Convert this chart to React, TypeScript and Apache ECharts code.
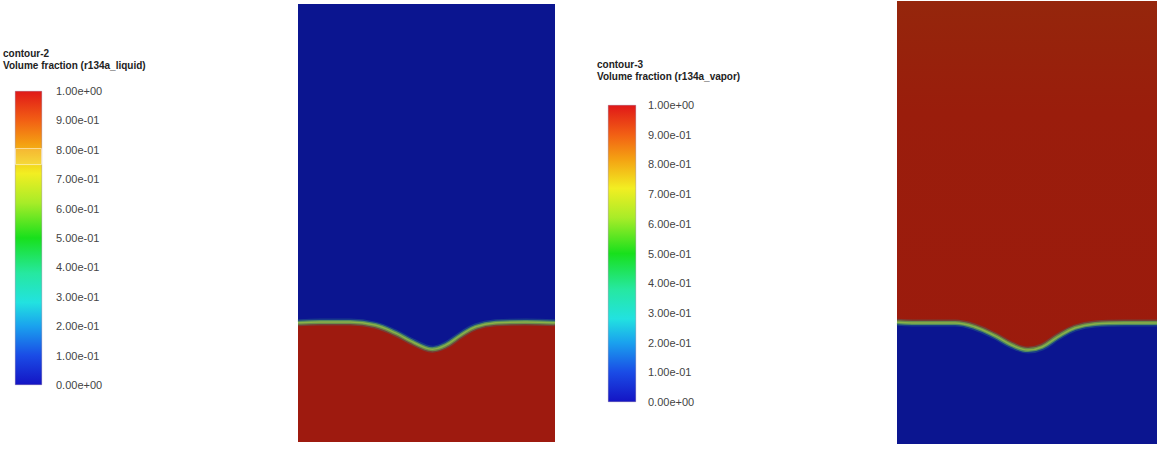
import React, { useEffect, useRef } from "react";
import * as echarts from "echarts";

// colour-bar tick labels (value 0 .. 1, step 0.1)
const tickLabels = [
  "0.00e+00", "1.00e-01", "2.00e-01", "3.00e-01", "4.00e-01", "5.00e-01",
  "6.00e-01", "7.00e-01", "8.00e-01", "9.00e-01", "1.00e+00",
];

// left contour (liquid): interface height (fraction of domain height) vs x (fraction of width)
const liquidX = [0, 0.086, 0.203, 0.3, 0.379, 0.4375, 0.496, 0.523, 0.574, 0.633, 0.691, 0.77, 0.887, 1];
const liquidH = [0.272, 0.274, 0.274, 0.267, 0.249, 0.231, 0.215, 0.212, 0.221, 0.244, 0.263, 0.272, 0.274, 0.272];

// right contour (vapor)
const vaporX = [0, 0.108, 0.223, 0.3, 0.377, 0.442, 0.504, 0.558, 0.619, 0.685, 0.762, 0.877, 1];
const vaporH = [0.275, 0.273, 0.273, 0.264, 0.244, 0.223, 0.212, 0.219, 0.242, 0.262, 0.271, 0.273, 0.273];

// faded band on the left colour bar (value range)
const bandRange = [0.748, 0.806];

const titles = [
  { name: "contour-2", sub: "Volume fraction (r134a_liquid)" },
  { name: "contour-3", sub: "Volume fraction (r134a_vapor)" },
];

const BLUE = "#0b1590";
const RED = "#9e1a0f";
const FONT = "Liberation Sans, Arial, sans-serif";

const barGradient = () =>
  new echarts.graphic.LinearGradient(0, 1, 0, 0, [
    { offset: 0, color: "#1414c4" },
    { offset: 0.1, color: "#1a4ce6" },
    { offset: 0.2, color: "#1aa2ee" },
    { offset: 0.28, color: "#22e2e0" },
    { offset: 0.38, color: "#26e8a0" },
    { offset: 0.5, color: "#18e01c" },
    { offset: 0.62, color: "#a8ec28" },
    { offset: 0.72, color: "#f2ee22" },
    { offset: 0.82, color: "#f4a012" },
    { offset: 0.9, color: "#f26014" },
    { offset: 1, color: "#e01818" },
  ]);

export default function App() {
  const ref = useRef<HTMLDivElement>(null);

  useEffect(() => {
    document.body.style.margin = "0";
    const chart = echarts.init(ref.current!, null, { renderer: "svg" });

    const labelAxis = (gridIndex: number, margin: number) => ({
      type: "value",
      gridIndex,
      min: 0,
      max: 1,
      interval: 0.1,
      position: "right",
      axisLine: { show: false },
      axisTick: { show: false },
      splitLine: { show: false },
      axisLabel: {
        margin,
        fontSize: 11,
        color: "#444",
        fontFamily: FONT,
        formatter: (v: number) => tickLabels[Math.round(v * 10)],
      },
    });
    const hiddenVal = (gridIndex: number) => ({
      type: "value", gridIndex, min: 0, max: 1, show: false,
    });

    const interfaceSeries = (idx: number, xs: number[], hs: number[], fill: string) => {
      const data = xs.map((x, i) => [x, hs[i]]);
      const base = { type: "line", xAxisIndex: idx, yAxisIndex: idx, data, smooth: 0.4, symbol: "none" };
      return [
        { ...base, lineStyle: { width: 0 }, areaStyle: { color: fill, opacity: 1, origin: "start" }, z: 2 },
        { ...base, lineStyle: { width: 7, color: "rgba(50,130,130,0.35)" }, z: 3 },
        { ...base, lineStyle: { width: 4, color: "rgba(100,165,80,0.75)" }, z: 4 },
        { ...base, lineStyle: { width: 1.5, color: "rgba(150,185,70,0.8)" }, z: 5 },
      ];
    };

    const titleStyle = { fontSize: 10, fontWeight: "bold", color: "#222", fontFamily: FONT };

    const option = {
      animation: false,
      backgroundColor: "#fff",
      title: [
        { text: titles[0].name, subtext: titles[0].sub, left: 3, top: 48, itemGap: 2, padding: 0, textStyle: titleStyle, subtextStyle: titleStyle },
        { text: titles[1].name, subtext: titles[1].sub, left: 597, top: 59, itemGap: 2, padding: 0, textStyle: titleStyle, subtextStyle: titleStyle },
      ],
      grid: [
        { left: 15, top: 91, width: 27, height: 294 },
        { left: 298, top: 4, width: 257, height: 438, show: true, backgroundColor: BLUE, borderWidth: 0 },
        { left: 608, top: 105, width: 28, height: 297 },
        {
          left: 897, top: 1, width: 260, height: 443, show: true, borderWidth: 0,
          backgroundColor: new echarts.graphic.LinearGradient(0, 0, 0, 1, [
            { offset: 0, color: "#95260c" },
            { offset: 0.25, color: "#9a1d0c" },
            { offset: 1, color: "#9c1a0d" },
          ]),
        },
      ],
      xAxis: [
        { type: "category", gridIndex: 0, data: ["bar"], show: false },
        hiddenVal(1),
        { type: "category", gridIndex: 2, data: ["bar"], show: false },
        hiddenVal(3),
      ],
      yAxis: [labelAxis(0, 14), hiddenVal(1), labelAxis(2, 12), hiddenVal(3)],
      series: [
        {
          type: "bar",
          xAxisIndex: 0,
          yAxisIndex: 0,
          data: [1],
          barWidth: 27,
          barGap: "-100%",
          itemStyle: { color: barGradient(), borderColor: "rgba(90,60,110,0.5)", borderWidth: 0.5 },
          z: 2,
        },
        {
          type: "bar",
          xAxisIndex: 0,
          yAxisIndex: 0,
          stack: "band",
          data: [bandRange[0]],
          barWidth: 27,
          barGap: "-100%",
          itemStyle: { color: "rgba(0,0,0,0)" },
          z: 3,
        },
        {
          type: "bar",
          xAxisIndex: 0,
          yAxisIndex: 0,
          stack: "band",
          data: [bandRange[1] - bandRange[0]],
          barWidth: 27,
          barGap: "-100%",
          itemStyle: { color: "rgba(255,235,190,0.18)", borderColor: "rgba(255,250,235,0.6)", borderWidth: 1 },
          z: 3,
        },
        {
          type: "bar",
          xAxisIndex: 2,
          yAxisIndex: 2,
          data: [1],
          barWidth: 28,
          itemStyle: { color: barGradient(), borderColor: "rgba(90,60,110,0.5)", borderWidth: 0.5 },
        },
        ...interfaceSeries(1, liquidX, liquidH, RED),
        ...interfaceSeries(3, vaporX, vaporH, BLUE),
      ],
    };

    chart.setOption(option as any);
    return () => chart.dispose();
  }, []);

  return <div ref={ref} style={{ width: 1160, height: 450 }} />;
}
